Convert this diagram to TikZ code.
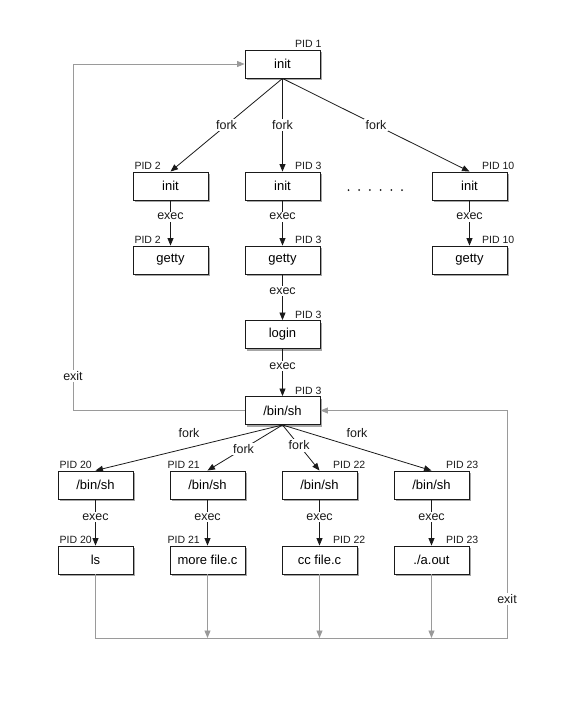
\documentclass[tikz,border=0pt]{standalone}
\usepackage{fontspec}
\setmainfont{Liberation Sans}
\usetikzlibrary{arrows.meta,positioning,calc,shadows}
\definecolor{ink}{HTML}{1A1A1A}
\definecolor{wire}{HTML}{9A9A9A}
\definecolor{shade}{HTML}{9C9C9C}
\tikzset{>={Triangle[length=7.5pt,width=6pt]},proc/.style={draw=ink,line width=.9pt,fill=white,minimum width=75pt,minimum height=28pt,inner sep=0pt,font=\fontsize{13}{15}\selectfont,drop shadow={shadow xshift=2pt,shadow yshift=-2pt,fill=shade,opacity=.9}},arr/.style={->,line width=.8pt,ink},back/.style={->,line width=.8pt,wire},verb/.style={font=\fontsize{12.5}{14}\selectfont,text=ink,fill=white,inner sep=1.5pt},pid/.style={font=\fontsize{10.5}{12}\selectfont,text=ink,inner sep=.5pt}}

\begin{document}
\begin{tikzpicture}[x=1pt,y=-1pt]
\useasboundingbox (0,0) rectangle (568,718);
% init and the gettys
\node[proc] (init) at (282.5,64) {init};
\node[proc] (i2) at (170.5,186) {init};
\node[proc] (i3) at (282.5,186) {init};
\node[proc] (i10) at (469.5,186) {init};
\node[proc] (g2) at (170.5,260) {getty};
\node[proc] (g3) at (282.5,260) {getty};
\node[proc] (g10) at (469.5,260) {getty};
\node[proc] (login) at (282.5,334.5) {login};
\node[proc] (sh) at (282.5,410.5) {/bin/sh};
\node[pid,anchor=south west] (p1) at ($(init.north)+(12,-1)$) {PID 1};
\node[pid,anchor=south east] (p2a) at ($(i2.north)+(-9,-1)$) {PID 2};
\node[pid,anchor=south west] (p3a) at ($(i3.north)+(12,-1)$) {PID 3};
\node[pid,anchor=south west] (p10a) at ($(i10.north)+(12,-1)$) {PID 10};
\node[pid,anchor=south east] (p2b) at ($(g2.north)+(-9,-1)$) {PID 2};
\node[pid,anchor=south west] (p3b) at ($(g3.north)+(12,-1)$) {PID 3};
\node[pid,anchor=south west] (p10b) at ($(g10.north)+(12,-1)$) {PID 10};
\node[pid,anchor=south west] (p3c) at ($(login.north)+(12,-1)$) {PID 3};
\node[pid,anchor=south west] (p3d) at ($(sh.north)+(12,-1)$) {PID 3};
\draw[arr] (init.south) -- node[verb] (f2) {fork} (i2.north);
\draw[arr] (init.south) -- node[verb] (f3) {fork} (i3.north);
\draw[arr] (init.south) -- node[verb] (f10) {fork} (i10.north);
\draw[arr] (i2) -- node[verb,pos=.36] (x2) {exec} (g2);
\draw[arr] (i3) -- node[verb,pos=.36] (x3) {exec} (g3);
\draw[arr] (i10) -- node[verb,pos=.36] (x10) {exec} (g10);
\draw[arr] (g3) -- node[verb,pos=.36] (x3b) {exec} (login);
\draw[arr] (login) -- node[verb,pos=.36] (x3c) {exec} (sh);
\foreach \k in {0,...,5}{\fill[ink] (348.5+\k*10.7,190) circle (1pt);}
% the shell and its children
\foreach \n/\x/\anc/\dx/\cmd in {20/95.5/south east/-3/ls,21/207.5/south east/-7/{more file.c},22/319.5/south west/13/{cc file.c},23/431.5/south west/14/{./a.out}}{
  \node[proc] (s\n) at (\x,485) {/bin/sh};
  \node[proc] (c\n) at (\x,560) {\cmd};
  \node[pid,anchor=\anc] (ps\n) at ($(s\n.north)+(\dx,-1)$) {PID \n};
  \node[pid,anchor=\anc] (pc\n) at ($(c\n.north)+(\dx,-1)$) {PID \n};
  \draw[arr] (s\n) -- node[verb,pos=.38] (xs\n) {exec} (c\n);
}
\draw[arr] (sh.south) -- node[verb,fill=none,above=8pt] (fs20) {fork} (s20.north);
\draw[arr] (sh.south) -- node[verb,pos=.52] (fs21) {fork} (s21.north);
\draw[arr] (sh.south) -- node[verb,pos=.45] (fs22) {fork} (s22.north);
\draw[arr] (sh.south) -- node[verb,fill=none,above=8pt] (fs23) {fork} (s23.north);
% exit paths
\coordinate (lb) at (73,410.5);
\coordinate (lt) at (73,64);
\coordinate (rb) at (507,638);
\coordinate (rt) at (507,410.5);
\draw[back] (sh.west) -- (lb) -- node[verb,pos=.1] (ex1) {exit} (lt) -- (init.west);
\draw[back] (c20.south) -- (c20.south |- rb) -- (rb) -- node[verb,pos=.17] (ex2) {exit} (rt) -- (sh.east);
\foreach \n in {21,22,23}{\draw[back] (c\n.south) -- (c\n.south |- rb);}
\end{tikzpicture}
\end{document}
